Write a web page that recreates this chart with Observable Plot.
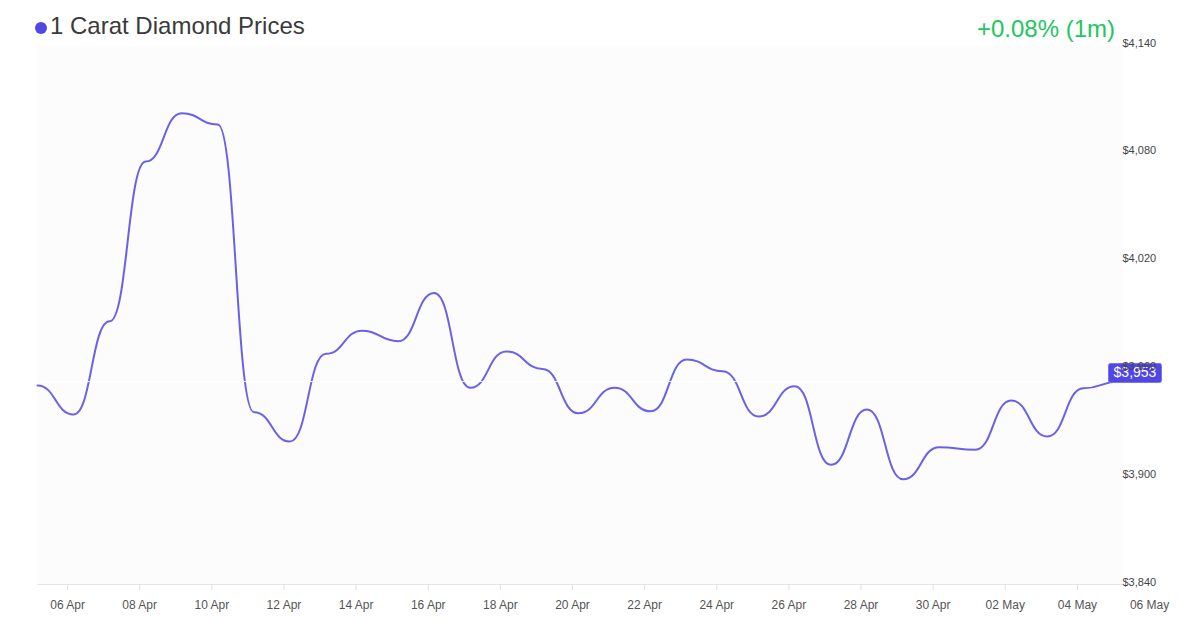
<!DOCTYPE html>
<html><head><meta charset="utf-8">
<script src="https://cdn.jsdelivr.net/npm/d3@7"></script>
<script src="https://cdn.jsdelivr.net/npm/@observablehq/plot@0.6"></script>
<style>
body{margin:0;background:#fff;font-family:"Liberation Sans",Arial,sans-serif;}
#wrap{position:relative;width:1200px;height:630px;overflow:hidden;}
#chart{position:absolute;left:0;top:0;}
#title{position:absolute;left:35px;top:12px;font-size:24px;line-height:28px;color:#3a3a3a;display:flex;align-items:center;white-space:nowrap;z-index:2;}
#title .dot{display:inline-block;width:12px;height:12px;border-radius:50%;background:#4f46e5;margin-right:3px;margin-top:4px;}
#change{position:absolute;right:85px;top:15px;font-size:24px;line-height:28px;color:#22c55e;white-space:nowrap;z-index:2;}
</style></head><body>
<div id="wrap">
  <div id="chart"></div>
  <div id="title"><span class="dot"></span>1 Carat Diamond Prices</div>
  <div id="change">+0.08% (1m)</div>
</div>
<script>
const dates = [
  "2024-04-05T04:00Z","2024-04-06T04:00Z","2024-04-07T04:00Z","2024-04-08T04:00Z","2024-04-09T04:00Z",
  "2024-04-10T04:00Z","2024-04-11T04:00Z","2024-04-12T04:00Z","2024-04-13T04:00Z","2024-04-14T04:00Z",
  "2024-04-15T04:00Z","2024-04-16T04:00Z","2024-04-17T04:00Z","2024-04-18T04:00Z","2024-04-19T04:00Z",
  "2024-04-20T04:00Z","2024-04-21T04:00Z","2024-04-22T04:00Z","2024-04-23T04:00Z","2024-04-24T04:00Z",
  "2024-04-25T04:00Z","2024-04-26T04:00Z","2024-04-27T04:00Z","2024-04-28T04:00Z","2024-04-29T04:00Z",
  "2024-04-30T04:00Z","2024-05-01T04:00Z","2024-05-02T04:00Z","2024-05-03T04:00Z","2024-05-04T04:00Z",
  "2024-05-05T04:00Z"
];
const prices = [
  3950.7, 3934.6, 3986.5, 4075.4, 4102.3, 4096.0, 3935.9, 3919.6, 3968.4, 3981.3,
  3975.4, 4002.3, 3949.5, 3969.7, 3960.0, 3935.3, 3949.5, 3936.4, 3965.2, 3958.7,
  3933.5, 3950.4, 3906.6, 3937.4, 3898.6, 3916.4, 3915.0, 3942.4, 3922.4, 3949.2,
  3953.0
];
const xTickDates = [
  "2024-04-06","2024-04-08","2024-04-10","2024-04-12","2024-04-14","2024-04-16",
  "2024-04-18","2024-04-20","2024-04-22","2024-04-24","2024-04-26","2024-04-28",
  "2024-04-30","2024-05-02","2024-05-04","2024-05-06"
];
const yTicks = [3840, 3900, 3960, 4020, 4080, 4140];
const xDomainEnd = "2024-05-05T06:00Z";

const data = dates.map((d, i) => ({date: new Date(d), price: prices[i]}));
const last = data[data.length - 1];
const xStart = new Date(dates[0]), xEnd = new Date(xDomainEnd);
const tickDates = xTickDates.map(d => new Date(d + "T00:00Z"));
const tickDatesIn = tickDates.filter(d => d >= xStart && d <= xEnd);
const fmtDate = d3.utcFormat("%d %b");
const fmtPrice = d => "$" + d3.format(",")(d);

// draws the rounded box behind the last-price text (the group is already shifted by dx/dy)
const labelBox = (index, scales, values, dims, context, next) => {
  const g = next(index, scales, values, dims, context);
  const i = index[0];
  const cx = values.x[i], cy = values.y[i];
  const r = document.createElementNS("http://www.w3.org/2000/svg", "rect");
  r.setAttribute("x", cx - 26.5);
  r.setAttribute("y", cy - 9.5);
  r.setAttribute("width", 53);
  r.setAttribute("height", 19);
  r.setAttribute("rx", 2);
  r.setAttribute("fill", "#4f46e5");
  r.setAttribute("stroke", "#7b74ee");
  r.setAttribute("stroke-width", 1);
  g.insertBefore(r, g.firstChild);
  return g;
};

const chart = Plot.plot({
  width: 1200, height: 630,
  marginTop: 45, marginBottom: 46, marginLeft: 37, marginRight: 78,
  style: {fontFamily: "'Liberation Sans', Arial, sans-serif", background: "transparent", overflow: "visible"},
  x: {type: "utc", domain: [xStart, xEnd], axis: null, label: null},
  y: {domain: [3840, 4140], axis: null, label: null},
  marks: [
    Plot.frame({fill: "#fcfcfc", stroke: null}),
    Plot.ruleY([3840], {stroke: "#e6e6e6", strokeWidth: 1}),
    Plot.axisX(tickDatesIn, {anchor: "bottom", tickSize: 6, stroke: "#e0e0e0", tickFormat: () => "", label: null}),
    Plot.axisX(tickDates, {anchor: "bottom", tickSize: 0, tickPadding: 16, fontSize: 12, fill: "#555", tickFormat: fmtDate, label: null}),
    Plot.line(data, {x: "date", y: "price", curve: "bump-x", stroke: "#4f46e5", strokeOpacity: 0.85, strokeWidth: 2}),
    Plot.ruleY([last.price], {stroke: "#ffffff", strokeOpacity: 0.9, strokeWidth: 1}),
    Plot.text([last], {x: "date", y: "price", text: d => fmtPrice(Math.round(d.price)), fill: "white", fontSize: 14, dx: 15.5, dy: -8.5, render: labelBox}),
    Plot.axisY(yTicks, {anchor: "right", tickSize: 0, tickPadding: 0, fontSize: 11, fill: "#444", dy: -2.5, tickFormat: fmtPrice, label: null})
  ]
});
document.getElementById("chart").appendChild(chart);
</script>
</body></html>
